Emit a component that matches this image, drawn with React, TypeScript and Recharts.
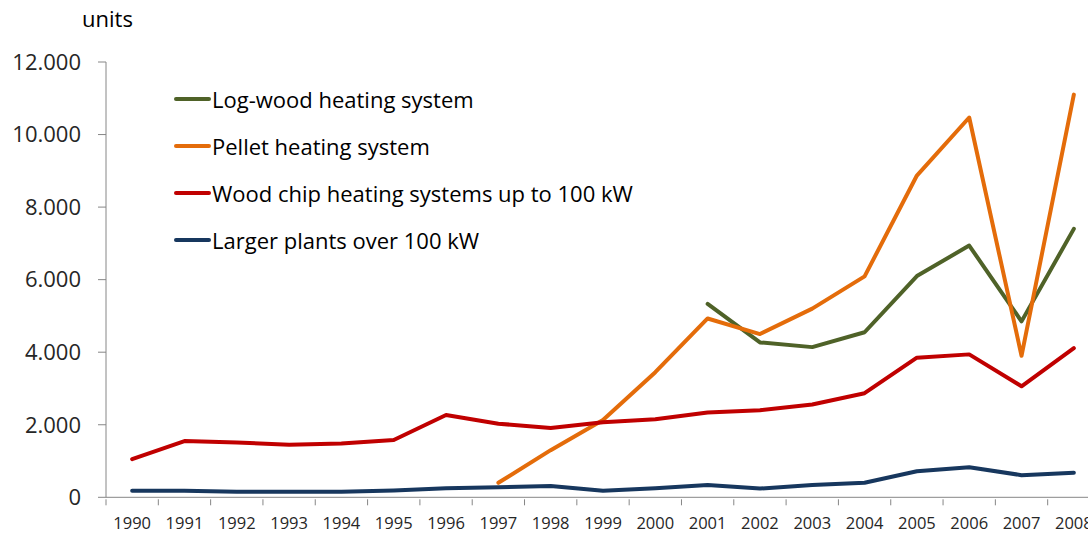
import React from "react";
import { LineChart, Line, XAxis, YAxis, Legend } from "recharts";

const years = ["1990","1991","1992","1993","1994","1995","1996","1997","1998","1999","2000","2001","2002","2003","2004","2005","2006","2007","2008"];
const logWood = [null,null,null,null,null,null,null,null,null,null,null,5330,4270,4140,4550,6100,6940,4850,7400];
const pellet = [null,null,null,null,null,null,null,400,1300,2130,3450,4930,4500,5200,6090,8870,10470,3900,11100];
const woodChip = [1050,1550,1510,1450,1480,1580,2270,2030,1910,2070,2150,2340,2400,2560,2870,3850,3940,3060,4110];
const larger = [180,180,150,150,150,190,250,280,310,180,250,340,240,340,400,720,830,610,680];
const yTicks = [0,2000,4000,6000,8000,10000,12000];

const series = [
  { key: "logWood", name: "Log-wood heating system", color: "#4F6228" },
  { key: "pellet", name: "Pellet heating system", color: "#E46C0A" },
  { key: "woodChip", name: "Wood chip heating systems up to 100 kW", color: "#C00000" },
  { key: "larger", name: "Larger plants over 100 kW", color: "#17375E" },
];

const data = years.map((y, i) => ({
  year: y,
  logWood: logWood[i],
  pellet: pellet[i],
  woodChip: woodChip[i],
  larger: larger[i],
}));

const FONT = "'Open Sans', 'Noto Sans', sans-serif";
const CHART_W = 1100;
const LEFT = 106;
const HALF_BAND = (CHART_W - LEFT) / years.length / 2;

const fmt = (v: number) => v.toLocaleString("de-DE");

const XTick = (props: any) => {
  const { x, y, payload } = props;
  return (
    <g>
      <line x1={x - HALF_BAND} x2={x - HALF_BAND} y1={y - 6} y2={y} stroke="#868686" strokeWidth={1} />
      <text x={x} y={y + 24} textAnchor="middle" fontSize={16.5} fill="#262626" fontFamily={FONT}>
        {payload.value}
      </text>
    </g>
  );
};

const order = series.map((s) => s.name);

const LegendContent = (props: any) => {
  const payload = [...(props.payload || [])].sort(
    (a: any, b: any) => order.indexOf(a.value) - order.indexOf(b.value)
  );
  return (
    <div style={{ fontFamily: FONT }}>
      {payload.map((p: any) => (
        <div key={p.value} style={{ display: "flex", alignItems: "center", height: 47 }}>
          <svg width={38} height={8} style={{ display: "block" }}>
            <line x1={2} x2={35} y1={4} y2={4} stroke={p.color} strokeWidth={4} strokeLinecap="round" />
          </svg>
          <span style={{ fontSize: 22, color: "#000", marginLeft: 0, whiteSpace: "nowrap" }}>{p.value}</span>
        </div>
      ))}
    </div>
  );
};

export default function App() {
  return (
    <div style={{ position: "absolute", left: 0, top: 0, width: 1088, height: 536, overflow: "hidden", background: "#fff" }}>
      <div style={{ position: "absolute", left: 82, top: 3, fontSize: 22, fontFamily: FONT, color: "#000" }}>units</div>
      <LineChart width={CHART_W} height={536} data={data} margin={{ top: 62, right: 0, left: 0, bottom: 0 }}>
        <XAxis
          dataKey="year"
          scale="band"
          height={38.7}
          axisLine={{ stroke: "#868686" }}
          tickLine={false}
          tick={<XTick />}
          interval={0}
        />
        <YAxis
          width={106}
          domain={[0, 12000]}
          ticks={yTicks}
          tickFormatter={fmt}
          axisLine={{ stroke: "#868686" }}
          tickLine={{ stroke: "#868686" }}
          tickSize={8}
          tickMargin={17}
          tick={{ fontSize: 22, fill: "#262626", fontFamily: FONT }}
          interval={0}
        />
        <Legend
          layout="vertical"
          align="center"
          verticalAlign="middle"
          content={<LegendContent />}
          wrapperStyle={{ left: 174, top: 75, width: 560 }}
        />
        {series.map((s) => (
          <Line
            key={s.key}
            dataKey={s.key}
            name={s.name}
            stroke={s.color}
            strokeWidth={4}
            strokeLinecap="round"
            strokeLinejoin="round"
            dot={false}
            activeDot={false}
            isAnimationActive={false}
            connectNulls={false}
          />
        ))}
      </LineChart>
    </div>
  );
}
